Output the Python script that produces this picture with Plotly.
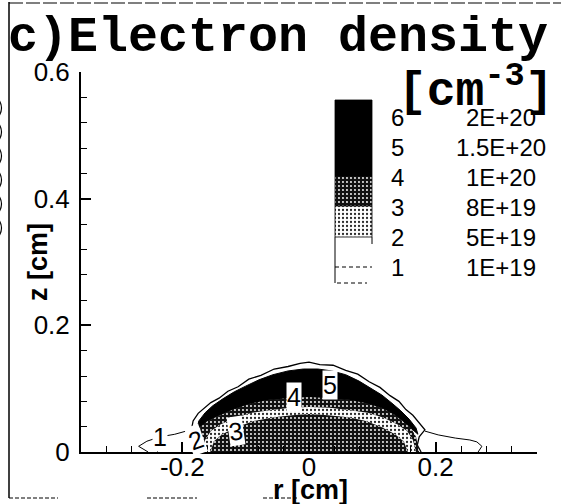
import plotly.graph_objects as go

# ---------------------------------------------------------------
# Contour levels of the electron density [cm^-3]
# ---------------------------------------------------------------
level_ids = ["6", "5", "4", "3", "2", "1"]
level_values = ["2E+20", "1.5E+20", "1E+20", "8E+19", "5E+19", "1E+19"]

# axis ticks
r_ticks = [-0.2, 0.0, 0.2]
r_ticktext = ["-0.2", "0", "0.2"]
z_ticks = [0.0, 0.2, 0.4, 0.6]
z_ticktext = ["0", "0.2", "0.4", "0.6"]

# ---------------------------------------------------------------
# Iso-density boundaries (r, z in cm)
# ---------------------------------------------------------------
# level 1 (1E+19): thin wings on both sides of the dome
c1_left_r = [-0.254, -0.269, -0.256, -0.235, -0.212, -0.194, -0.186]
c1_left_z = [0.000, 0.009, 0.017, 0.024, 0.028, 0.033, 0.038]
c1_right_r = [0.183, 0.204, 0.231, 0.254, 0.265, 0.273, 0.267]
c1_right_z = [0.033, 0.027, 0.022, 0.019, 0.016, 0.009, 0.000]

# level 2 (5E+19): outer edge of the dome
c2_r = [-0.169, -0.182, -0.186, -0.183, -0.175, -0.166, -0.155, -0.142, -0.128,
        -0.112, -0.095, -0.076, -0.055, -0.033, -0.014, 0.000, 0.017, 0.038,
        0.058, 0.077, 0.095, 0.112, 0.128, 0.142, 0.153, 0.164, 0.174, 0.183,
        0.174, 0.171, 0.177]
c2_z = [0.000, 0.016, 0.033, 0.049, 0.061, 0.069, 0.078, 0.085, 0.096,
        0.103, 0.115, 0.121, 0.131, 0.135, 0.140, 0.142, 0.138, 0.137,
        0.129, 0.123, 0.111, 0.102, 0.089, 0.080, 0.067, 0.058, 0.045, 0.035,
        0.024, 0.011, 0.000]

# level 5 (1.5E+20): dense shell (outer edge left->right, inner edge right->left)
c5_r = [-0.177, -0.174, -0.164, -0.152, -0.136, -0.118, -0.100, -0.079, -0.057,
        -0.033, -0.009, 0.014, 0.036, 0.058, 0.079, 0.098, 0.115, 0.131, 0.145,
        0.158, 0.169, 0.172,
        0.161, 0.148, 0.133, 0.114, 0.090, 0.065, 0.033, 0.000, -0.033, -0.065,
        -0.093, -0.118, -0.141, -0.160, -0.172, -0.177]
c5_z = [0.035, 0.049, 0.062, 0.073, 0.084, 0.095, 0.104, 0.114, 0.122,
        0.128, 0.131, 0.131, 0.128, 0.122, 0.112, 0.101, 0.090, 0.077, 0.065,
        0.052, 0.038, 0.028,
        0.038, 0.049, 0.060, 0.070, 0.077, 0.082, 0.085, 0.087, 0.085, 0.082,
        0.076, 0.068, 0.058, 0.049, 0.039, 0.035]

# level 4 (1E+20): band just below the shell
c4_r = [-0.171, -0.172, -0.160, -0.141, -0.118, -0.093, -0.065, -0.033, 0.000,
        0.033, 0.065, 0.090, 0.114, 0.133, 0.148, 0.161, 0.169, 0.174]
c4_z = [0.000, 0.039, 0.049, 0.058, 0.068, 0.076, 0.082, 0.085, 0.087,
        0.085, 0.082, 0.077, 0.070, 0.060, 0.049, 0.038, 0.024, 0.000]

# level 3 (8E+19): depleted layer between shell and core
c3_r = [-0.166, -0.164, -0.155, -0.139, -0.117, -0.090, -0.062, -0.030, 0.000,
        0.033, 0.065, 0.093, 0.118, 0.139, 0.155, 0.164, 0.169]
c3_z = [0.000, 0.019, 0.033, 0.044, 0.054, 0.062, 0.066, 0.070, 0.071,
        0.070, 0.066, 0.062, 0.054, 0.044, 0.033, 0.019, 0.000]

# level 4 (1E+20): core near the surface
core_r = [-0.156, -0.150, -0.137, -0.115, -0.087, -0.055, -0.027, 0.000, 0.030,
          0.062, 0.090, 0.115, 0.136, 0.150, 0.156]
core_z = [0.000, 0.017, 0.028, 0.039, 0.049, 0.055, 0.058, 0.060, 0.058,
          0.055, 0.049, 0.039, 0.028, 0.016, 0.000]

# contour labels placed on the iso-lines
label_text = ["1", "2", "3", "4", "5"]
label_r = [-0.235, -0.179, -0.115, -0.024, 0.033]
label_z = [0.024, 0.019, 0.033, 0.087, 0.106]
label_angle = [0, -20, -8, 0, 0]

# ---------------------------------------------------------------
W, H = 561, 504
L, T, R, B = 81, 72, 24, 52
PW, PH = W - L - R, H - T - B


def px(x):
    return (x - L) / PW


def py(y):
    return (H - B - y) / PH


dark_pat = dict(shape=".", bgcolor="#111111", fgcolor="#ffffff", size=4, solidity=0.18,
                fillmode="replace")
light_pat = dict(shape=".", bgcolor="#ffffff", fgcolor="#2a2a2a", size=4, solidity=0.25,
                 fillmode="replace")

fig = go.Figure()

# level-1 wings
for rr, zz in ((c1_left_r, c1_left_z), (c1_right_r, c1_right_z)):
    fig.add_trace(go.Scatter(x=rr, y=zz, mode="lines", line=dict(color="black", width=1),
                             hoverinfo="skip", showlegend=False))

# dome outline
fig.add_trace(go.Scatter(x=c2_r, y=c2_z, mode="lines", fill="toself", fillcolor="white",
                         line=dict(color="black", width=1.3), hoverinfo="skip", showlegend=False))
# dense shell
fig.add_trace(go.Scatter(x=c5_r, y=c5_z, mode="lines", fill="toself", fillcolor="black",
                         line=dict(color="black", width=1), hoverinfo="skip", showlegend=False))
# band below the shell
fig.add_trace(go.Scatter(x=c4_r, y=c4_z, mode="lines", fill="toself", fillcolor="#111111",
                         fillpattern=dark_pat, line=dict(width=0), hoverinfo="skip",
                         showlegend=False))
# depleted layer
fig.add_trace(go.Scatter(x=c3_r, y=c3_z, mode="lines", fill="toself", fillcolor="white",
                         fillpattern=light_pat, line=dict(width=0), hoverinfo="skip",
                         showlegend=False))
# core
fig.add_trace(go.Scatter(x=core_r, y=core_z, mode="lines", fill="toself", fillcolor="#111111",
                         fillpattern=dark_pat, line=dict(width=0), hoverinfo="skip",
                         showlegend=False))

# contour labels
for t, r, z, a in zip(label_text, label_r, label_z, label_angle):
    fig.add_annotation(x=r, y=z, xref="x", yref="y", text=t, showarrow=False,
                       xanchor="center", yanchor="middle",
                       textangle=a, bgcolor="white", borderpad=0,
                       font=dict(family="Liberation Sans", size=25, color="black"))

# ---------------- legend key (pixel overlay axes) ----------------
key_x0, key_x1 = 335, 372
key_rows = [117, 147, 177, 207, 237, 267]
sw = [(100, 176, "black", None), (176, 206, "#111111", dark_pat), (206, 237, "white", light_pat)]
for y0, y1, col, pat in sw:
    kw = dict(fillpattern=pat) if pat else {}
    fig.add_trace(go.Scatter(x=[key_x0, key_x1, key_x1, key_x0, key_x0],
                             y=[y0, y0, y1, y1, y0], xaxis="x2", yaxis="y2",
                             mode="lines", fill="toself", fillcolor=col,
                             line=dict(color="black", width=0.8), hoverinfo="skip",
                             showlegend=False, **kw))
fig.add_trace(go.Scatter(x=[key_x0, key_x0], y=[237, 283], xaxis="x2", yaxis="y2",
                         mode="lines", line=dict(color="black", width=1),
                         hoverinfo="skip", showlegend=False))
fig.add_trace(go.Scatter(x=[key_x1, key_x1], y=[237, 244], xaxis="x2", yaxis="y2",
                         mode="lines", line=dict(color="black", width=1),
                         hoverinfo="skip", showlegend=False))
for yy, xa, xb in ((267, key_x0, key_x1), (283, key_x0 + 2, key_x1 - 5)):
    fig.add_trace(go.Scatter(x=[xa, xb], y=[yy, yy], xaxis="x2", yaxis="y2",
                             mode="lines", line=dict(color="black", width=1, dash="4px,3px"),
                             hoverinfo="skip", showlegend=False))

for yy, lid, val in zip(key_rows, level_ids, level_values):
    fig.add_annotation(x=px(397), y=py(yy), xref="paper", yref="paper", text=lid,
                       xanchor="center", yanchor="middle", showarrow=False,
                       font=dict(family="Liberation Sans", size=24, color="black"))
    fig.add_annotation(x=px(501), y=py(yy), xref="paper", yref="paper", text=val,
                       xanchor="center", yanchor="middle", showarrow=False,
                       font=dict(family="Liberation Sans", size=24, color="black"))

# ---------------- titles ----------------
fig.add_annotation(x=px(6), y=py(37), xref="paper", yref="paper", xanchor="left",
                   yanchor="middle", text="c)Electron density", showarrow=False,
                   font=dict(family="Liberation Mono", size=50, color="black", weight="bold"))
fig.add_annotation(x=px(556), y=py(88), xref="paper", yref="paper", xanchor="right",
                   yanchor="middle", text="[cm<sup>-3</sup>]", showarrow=False,
                   font=dict(family="Liberation Mono", size=48, color="black", weight="bold"))
fig.add_annotation(x=px(310), y=py(490), xref="paper", yref="paper", text="r [cm]",
                   xanchor="center", yanchor="middle", showarrow=False,
                   font=dict(family="Liberation Sans", size=27, color="black", weight="bold"))
fig.add_annotation(x=px(38), y=py(262), xref="paper", yref="paper", text="z [cm]",
                   xanchor="center", yanchor="middle", textangle=-90, showarrow=False,
                   font=dict(family="Liberation Sans", size=27, color="black", weight="bold"))

# ---------------- page frame ----------------
shapes = [
    dict(type="line", xref="paper", yref="paper", x0=px(9), x1=px(9), y0=py(2), y1=py(498),
         line=dict(color="black", width=1.5)),
    dict(type="line", xref="paper", yref="paper", x0=px(9), x1=px(561), y0=py(3), y1=py(3),
         line=dict(color="black", width=1.2, dash="14px,3px")),
    dict(type="line", xref="paper", yref="paper", x0=px(9), x1=px(58), y0=py(498), y1=py(498),
         line=dict(color="black", width=1, dash="4px,2px")),
    dict(type="line", xref="paper", yref="paper", x0=px(147), x1=px(197), y0=py(498), y1=py(498),
         line=dict(color="black", width=1, dash="4px,2px")),
    dict(type="line", xref="paper", yref="paper", x0=px(263), x1=px(297), y0=py(498), y1=py(498),
         line=dict(color="black", width=1, dash="4px,2px")),
]
for yy in (100, 124, 148, 172, 196, 220):
    shapes.append(dict(type="path", xref="paper", yref="paper",
                       path=f"M {px(-1)},{py(yy)} Q {px(4)},{py(yy + 8)} {px(-1)},{py(yy + 16)}",
                       line=dict(color="black", width=1.2)))

tick_font = dict(family="Liberation Sans", size=26, color="black")
fig.update_layout(
    width=W, height=H, margin=dict(l=L, r=R, t=T, b=B),
    paper_bgcolor="white", plot_bgcolor="white",
    shapes=shapes,
    xaxis=dict(range=[-0.36, 0.36], showgrid=False, zeroline=False, showline=True,
               linecolor="black", linewidth=2, ticks="inside", ticklen=10, tickwidth=1.5,
               tickcolor="black", tickvals=r_ticks, ticktext=r_ticktext, tickfont=tick_font,
               minor=dict(dtick=0.04, tick0=0, ticks="inside", ticklen=6, tickwidth=1.2,
                          tickcolor="black", showgrid=False),
               ticklabelstandoff=-9, fixedrange=True),
    yaxis=dict(range=[0, 0.6], showgrid=False, zeroline=False, showline=True,
               linecolor="black", linewidth=2, ticks="inside", ticklen=10, tickwidth=1.5,
               tickcolor="black", tickvals=z_ticks, ticktext=z_ticktext, tickfont=tick_font,
               minor=dict(dtick=0.04, tick0=0, ticks="inside", ticklen=6, tickwidth=1.2,
                          tickcolor="black", showgrid=False),
               ticklabelstandoff=4, fixedrange=True),
    xaxis2=dict(overlaying="x", range=[L, W - R], visible=False, anchor="y2", fixedrange=True),
    yaxis2=dict(overlaying="y", range=[H - B, T], visible=False, anchor="x2", fixedrange=True),
)

fig.write_html("out.html")
